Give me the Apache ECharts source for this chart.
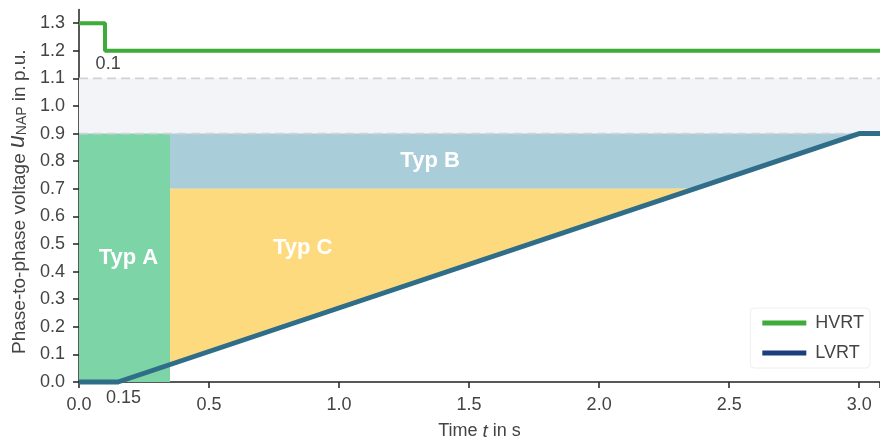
<!DOCTYPE html>
<html>
<head>
<meta charset="utf-8">
<script src="https://cdn.jsdelivr.net/npm/echarts@6/dist/echarts.min.js"></script>
<style>
  html, body { margin: 0; padding: 0; background: #fff; }
  #chart { width: 880px; height: 444px; }
</style>
</head>
<body>
<div id="chart"></div>
<script>
// Fault ride-through envelope: voltage limits over time
const xTicks = [0.0, 0.5, 1.0, 1.5, 2.0, 2.5, 3.0];
const yTicks = [0.0, 0.1, 0.2, 0.3, 0.4, 0.5, 0.6, 0.7, 0.8, 0.9, 1.0, 1.1, 1.2, 1.3];

// HVRT curve (upper limit)
const hvrtTime = [0.0, 0.1, 0.1, 3.08];
const hvrtVolt = [1.3, 1.3, 1.2, 1.2];

// LVRT curve (lower limit)
const lvrtTime = [0.0, 0.15, 3.0, 3.08];
const lvrtVolt = [0.0, 0.0, 0.9, 0.9];

// Tolerance band and dashed limits
const bandLow = 0.9;
const bandHigh = 1.1;

// Generator type zones
const typABounds = [0.0, 0.35, 0.0, 0.9];   // tStart, tEnd, uLow, uHigh
const typBBounds = [0.35, 0.7, 0.9];         // tStart, uLow, uHigh (right edge = LVRT)
const typCBounds = [0.35, 0.7];              // tStart, uHigh (bottom edge = LVRT)

// Text labels: [t, u, text]
const zoneLabels = [[0.19, 0.45, 'Typ A'], [1.35, 0.80, 'Typ B'], [0.86, 0.485, 'Typ C']];
const noteLabels = [[0.112, 1.152, '0.1'], [0.171, -0.058, '0.15']];

const xMax = 3.08, yMax = 1.35;

// linear interpolation along the LVRT curve
function lvrtAt(t) {
  for (let i = 0; i < lvrtTime.length - 1; i++) {
    if (t >= lvrtTime[i] && t <= lvrtTime[i + 1]) {
      const f = (t - lvrtTime[i]) / (lvrtTime[i + 1] - lvrtTime[i]);
      return lvrtVolt[i] + f * (lvrtVolt[i + 1] - lvrtVolt[i]);
    }
  }
  return lvrtVolt[lvrtVolt.length - 1];
}
function lvrtTimeAt(u) {
  for (let i = 0; i < lvrtTime.length - 1; i++) {
    if (lvrtVolt[i + 1] > lvrtVolt[i] && u >= lvrtVolt[i] && u <= lvrtVolt[i + 1]) {
      const f = (u - lvrtVolt[i]) / (lvrtVolt[i + 1] - lvrtVolt[i]);
      return lvrtTime[i] + f * (lvrtTime[i + 1] - lvrtTime[i]);
    }
  }
  return lvrtTime[lvrtTime.length - 1];
}

const tB = lvrtTimeAt(typBBounds[1]);
const tTop = lvrtTimeAt(typBBounds[2]);
const polygons = [
  { pts: [[0, bandLow], [xMax, bandLow], [xMax, bandHigh], [0, bandHigh]], color: '#f3f4f7' },
  { pts: [[typABounds[0], typABounds[2]], [typABounds[1], typABounds[2]], [typABounds[1], typABounds[3]], [typABounds[0], typABounds[3]]], color: '#7dd4a6' },
  { pts: [[typBBounds[0], typBBounds[1]], [tB, typBBounds[1]], [tTop, typBBounds[2]], [typBBounds[0], typBBounds[2]]], color: '#aacdda' },
  { pts: [[typCBounds[0], lvrtAt(typCBounds[0])], [lvrtTimeAt(typCBounds[1]), typCBounds[1]], [typCBounds[0], typCBounds[1]]], color: '#fdda7e' }
];

const FONT = 'Liberation Sans, Arial, sans-serif';
const TXT = '#444';
const chart = echarts.init(document.getElementById('chart'));

chart.setOption({
  animation: false,
  backgroundColor: '#fff',
  grid: { left: 79, right: 0, top: 9.4, bottom: 62, containLabel: false, outerBoundsMode: 'none' },
  xAxis: {
    type: 'value', min: 0, max: xMax, interval: 0.5,
    name: '{a|Time }{i|t}{a| in s}', nameLocation: 'middle', nameGap: 40,
    nameTextStyle: { rich: {
      a: { fontFamily: FONT, fontSize: 18, color: TXT },
      i: { fontFamily: FONT, fontSize: 19, color: TXT, fontStyle: 'italic' }
    } },
    axisLine: { show: true, onZero: false, lineStyle: { color: '#222', width: 1.5 } },
    axisTick: { show: true, length: 6, lineStyle: { color: '#222', width: 1.5 } },
    axisLabel: {
      fontFamily: FONT, fontSize: 18, color: TXT, margin: 14,
      customValues: xTicks, formatter: v => v.toFixed(1)
    },
    splitLine: { show: false }
  },
  yAxis: {
    type: 'value', min: 0, max: yMax, interval: 0.1,
    name: '{a|Phase-to-phase voltage }{i|u}{s|NAP}{a| in p.u.}', nameLocation: 'middle', nameGap: 50,
    nameTextStyle: { padding: [0, 0, 0, -12], rich: {
      a: { fontFamily: FONT, fontSize: 19, color: TXT, verticalAlign: 'bottom', lineHeight: 26 },
      i: { fontFamily: FONT, fontSize: 23, color: TXT, fontStyle: 'italic', verticalAlign: 'bottom', lineHeight: 26 },
      s: { fontFamily: FONT, fontSize: 14, color: TXT, verticalAlign: 'bottom', lineHeight: 22 }
    } },
    axisLine: { show: true, onZero: false, lineStyle: { color: '#222', width: 1.5 } },
    axisTick: { show: true, length: 6, lineStyle: { color: '#222', width: 1.5 }, customValues: yTicks },
    axisLabel: {
      fontFamily: FONT, fontSize: 18, color: TXT, margin: 14,
      customValues: yTicks, formatter: v => v.toFixed(1)
    },
    splitLine: { show: false }
  },
  legend: {
    orient: 'vertical', right: 10, top: 308,
    itemWidth: 44, itemHeight: 5, itemGap: 12, icon: 'rect',
    backgroundColor: 'rgba(255,255,255,0.9)', borderColor: '#eeeeee', borderWidth: 1, borderRadius: 4,
    padding: [6, 6, 6, 12],
    textStyle: { fontFamily: FONT, fontSize: 18, color: TXT, padding: [0, 0, 0, 4] },
    data: [
      { name: 'HVRT', itemStyle: { color: '#3eab3a' } },
      { name: 'LVRT', itemStyle: { color: '#1b3f7a' } }
    ]
  },
  series: [
    {
      type: 'custom', name: 'zones', z: 1, silent: true,
      renderItem: (params, api) => {
        const p = polygons[params.dataIndex];
        return { type: 'polygon', shape: { points: p.pts.map(pt => api.coord(pt)) }, style: { fill: p.color } };
      },
      data: polygons.map((p, i) => i)
    },
    {
      type: 'custom', name: 'limits', z: 2, silent: true,
      renderItem: (params, api) => {
        const u = [bandLow, bandHigh][params.dataIndex];
        const a = api.coord([0, u]), b = api.coord([xMax, u]);
        return { type: 'line', shape: { x1: a[0], y1: a[1], x2: b[0], y2: b[1] },
          style: { stroke: '#cfd2d6', lineWidth: 1.6, lineDash: [9, 5] } };
      },
      data: [0, 1]
    },
    {
      type: 'line', name: 'LVRT', z: 4, showSymbol: false, symbol: 'none',
      data: lvrtTime.map((t, i) => [t, lvrtVolt[i]]),
      lineStyle: { color: '#2f6d89', width: 5 }, itemStyle: { color: '#2f6d89' }, clip: false
    },
    {
      type: 'line', name: 'HVRT', z: 4, showSymbol: false, symbol: 'none',
      data: hvrtTime.map((t, i) => [t, hvrtVolt[i]]),
      lineStyle: { color: '#3eab3a', width: 4 }, itemStyle: { color: '#3eab3a' }, clip: false
    },
    {
      type: 'custom', name: 'zoneText', z: 5, silent: true,
      renderItem: (params, api) => {
        const l = zoneLabels[params.dataIndex];
        const p = api.coord([l[0], l[1]]);
        return { type: 'text', x: p[0], y: p[1], style: { text: l[2], fill: '#fff', font: 'bold 22px ' + FONT, align: 'center', verticalAlign: 'middle' } };
      },
      data: zoneLabels.map((l, i) => i)
    },
    {
      type: 'custom', name: 'notes', z: 5, silent: true, clip: false,
      renderItem: (params, api) => {
        const l = noteLabels[params.dataIndex];
        const p = api.coord([l[0], l[1]]);
        return { type: 'text', x: p[0], y: p[1], style: { text: l[2], fill: TXT, font: '18px ' + FONT, align: 'center', verticalAlign: 'middle' } };
      },
      data: noteLabels.map((l, i) => i)
    }
  ]
});
</script>
</body>
</html>
